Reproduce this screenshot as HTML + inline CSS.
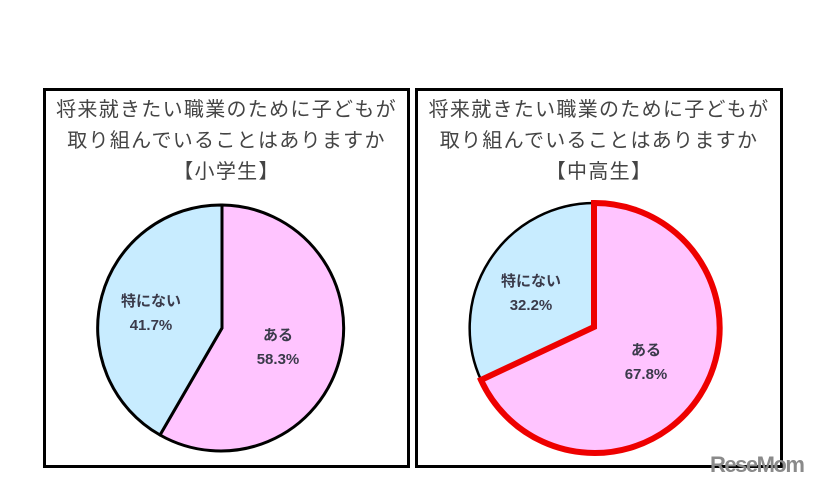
<!DOCTYPE html>
<html><head><meta charset="utf-8"><style>
body{margin:0;background:#fff;width:821px;height:490px;overflow:hidden;font-family:"Liberation Sans","Noto Sans CJK JP",sans-serif}
.box{position:absolute;top:88px;height:374px;border:3px solid #000;}
.t{position:absolute;left:0;width:100%;text-align:center;color:#444;font-size:20px;letter-spacing:1.3px;line-height:31px;top:4px}
.lbl{position:absolute;text-align:center;font-weight:bold;font-size:15px;color:#3a3a4a;line-height:24px;width:90px}
</style></head><body>
<div class="box" style="left:43px;width:361px"><div class="t">将来就きたい職業のために子どもが<br>取り組んでいることはありますか<br>【小学生】</div></div>
<div class="box" style="left:415px;width:362px"><div class="t">将来就きたい職業のために子どもが<br>取り組んでいることはありますか<br>【中高生】</div></div>
<svg width="821" height="490" style="position:absolute;left:0;top:0">
<path d="M222,328 L222,205 A123,123 0 1 1 160,435 Z" fill="#ffc4ff" stroke="#000" stroke-width="3" stroke-linejoin="round"/>
<path d="M222,328 L160,435 A123,123 0 0 1 222,205 Z" fill="#c8ecff" stroke="#000" stroke-width="3" stroke-linejoin="round"/>
<path d="M594,327 L594,203 A125,125 0 0 0 481,380 Z" fill="#c8ecff" stroke="#000" stroke-width="2.5"/>
<path d="M594,327 L594,203 A125,125 0 1 1 481,380 Z" fill="#ffc4ff" stroke="#ee0000" stroke-width="6" stroke-linejoin="miter"/>
</svg>
<div class="lbl" style="left:106px;top:290px">特にない<br>41.7%</div>
<div class="lbl" style="left:233px;top:324px">ある<br>58.3%</div>
<div class="lbl" style="left:486px;top:270px">特にない<br>32.2%</div>
<div class="lbl" style="left:601px;top:339px">ある<br>67.8%</div>
<div style="position:absolute;left:710px;top:452px;font-size:22px;font-weight:bold;color:#8a8a8a;letter-spacing:-1.5px">ReseMom</div>
</body></html>
